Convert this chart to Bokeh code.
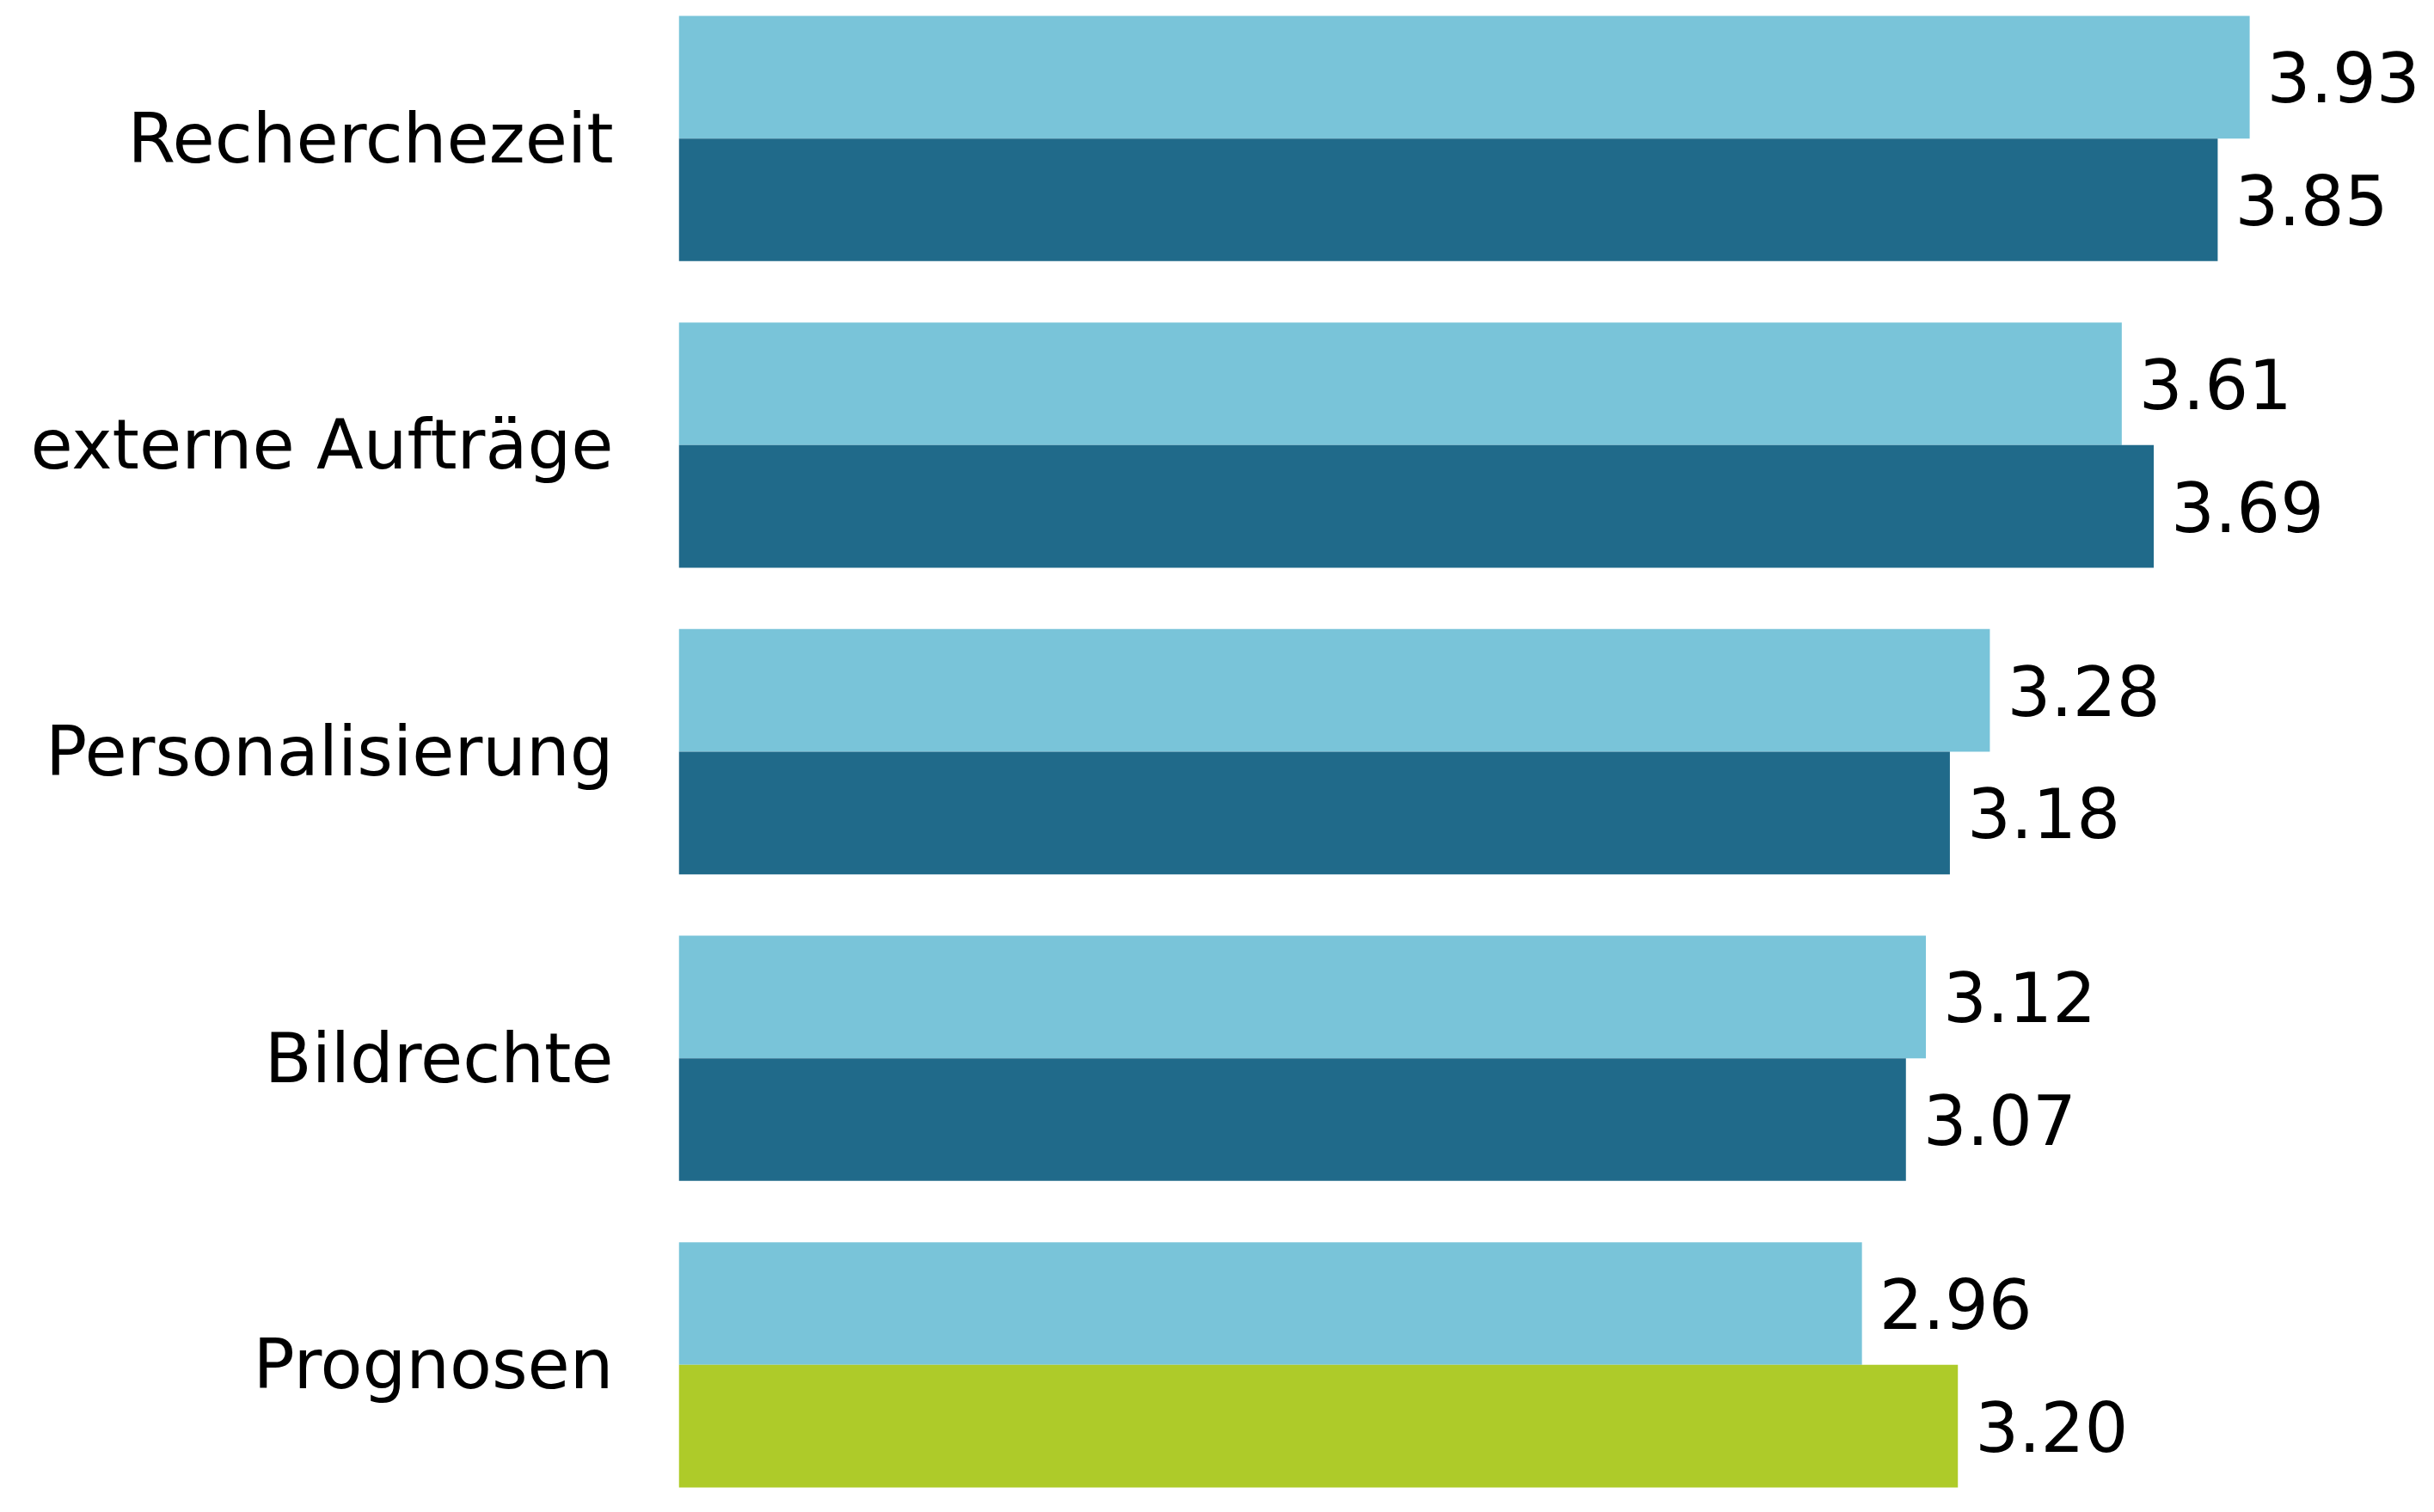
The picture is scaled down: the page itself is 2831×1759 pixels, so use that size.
from bokeh.plotting import figure
from bokeh.models import ColumnDataSource, Range1d, FixedTicker
from bokeh.embed import file_html
from bokeh.resources import INLINE
from bokeh.core.properties import value

categories = ["Recherchezeit", "externe Aufträge", "Personalisierung", "Bildrechte", "Prognosen"]
series_a = [3.93, 3.61, 3.28, 3.12, 2.96]
series_b = [3.85, 3.69, 3.18, 3.07, 3.20]

color_a = "#79C4D9"
color_b = ["#206A8A", "#206A8A", "#206A8A", "#206A8A", "#AECB29"]

n = len(categories)
pos = [n - 1 - i for i in range(n)]
bar_h = 0.4

src_a = ColumnDataSource(dict(
    y=[p_ + bar_h / 2 for p_ in pos], v=series_a,
    lab=[f"{v:.2f}" for v in series_a], c=[color_a] * n))
src_b = ColumnDataSource(dict(
    y=[p_ - bar_h / 2 for p_ in pos], v=series_b,
    lab=[f"{v:.2f}" for v in series_b], c=color_b))

p = figure(width=2823, height=1748, output_backend="svg", toolbar_location=None,
           x_range=Range1d(0, 4.375), y_range=Range1d(-0.4505, 4.428),
           min_border_left=789, min_border_right=0, min_border_top=8, min_border_bottom=0)

for s in (src_a, src_b):
    p.hbar(y="y", right="v", left=0, height=bar_h, color="c", line_color=None, source=s)
    p.text(x="v", y="y", text="lab", source=s, x_offset=20, text_align="left",
           text_baseline="middle", text_font=value("DejaVu Sans"),
           text_font_size="80px", text_color="black")

p.xaxis.visible = False
p.xgrid.visible = False
p.ygrid.visible = False
p.outline_line_color = None

ax = p.yaxis[0]
ax.ticker = FixedTicker(ticks=pos)
ax.major_label_overrides = {p_: c for p_, c in zip(pos, categories)}
ax.axis_line_color = None
ax.major_tick_line_color = None
ax.minor_tick_line_color = None
ax.major_tick_out = 0
ax.major_tick_in = 0
ax.major_label_standoff = 76
ax.major_label_text_font = "DejaVu Sans"
ax.major_label_text_font_size = "80px"
ax.major_label_text_color = "black"

open("out.html", "w").write(file_html(p, INLINE))
